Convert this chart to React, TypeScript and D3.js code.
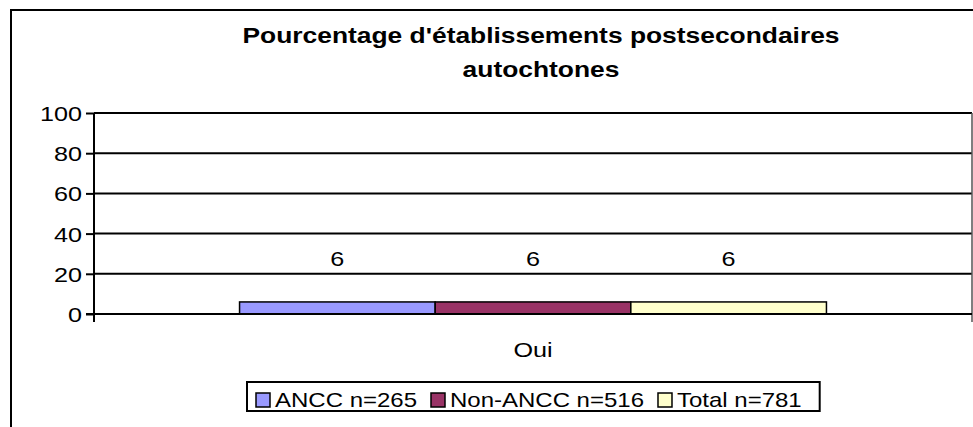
import React from "react";
import * as d3 from "d3";

const categories = ["Oui"];
const seriesNames = ["ANCC n=265", "Non-ANCC n=516", "Total n=781"];
const seriesValues = [[6], [6], [6]];
const seriesColors = ["#9999FF", "#993366", "#FFFFCC"];
const yTicks = [0, 20, 40, 60, 80, 100];
const titleLines = ["Pourcentage d'établissements postsecondaires", "autochtones"];

const width = 973;
const height = 427;
const margin = { top: 113, right: 1, bottom: 113, left: 94 };
const font = "'Liberation Sans', Arial, sans-serif";
const sx = 1.2; // text looks stretched horizontally in the source

export default function App() {
  const ref = React.useRef<SVGSVGElement>(null);

  React.useEffect(() => {
    const svg = d3.select(ref.current);
    svg.selectAll("*").remove();

    const x0 = d3.scaleBand().domain(categories).range([margin.left, width - margin.right]).paddingInner(0).paddingOuter(0.248);
    const x1 = d3.scaleBand().domain(seriesNames).range([0, x0.bandwidth()]);
    const y = d3.scaleLinear().domain([0, 100]).range([height - margin.bottom, margin.top]);
    const y0 = y(0);

    // outer frame
    svg.append("rect").attr("x", 11).attr("y", 10).attr("width", 1000).attr("height", 500)
      .attr("fill", "white").attr("stroke", "black").attr("stroke-width", 2);

    // title
    titleLines.forEach((t, i) => {
      svg.append("text").text(t)
        .attr("transform", `translate(541,${43 + i * 34}) scale(${sx},1)`)
        .attr("text-anchor", "middle").attr("font-family", font)
        .attr("font-weight", "bold").attr("font-size", 22);
    });

    // gridlines
    svg.append("g").selectAll("line").data(yTicks.filter(d => d > 0)).join("line")
      .attr("x1", margin.left).attr("x2", width - margin.right)
      .attr("y1", d => y(d)).attr("y2", d => y(d))
      .attr("stroke", "black").attr("stroke-width", 2);

    // right plot edge
    svg.append("line").attr("x1", width - margin.right).attr("x2", width - margin.right)
      .attr("y1", y(100)).attr("y2", y0 + 8).attr("stroke", "#555").attr("stroke-width", 1.5);

    // bars
    seriesNames.forEach((s, si) => {
      svg.append("g").selectAll("rect").data(categories).join("rect")
        .attr("x", c => x0(c)! + x1(s)!)
        .attr("y", (c, ci) => y(seriesValues[si][ci]))
        .attr("width", x1.bandwidth())
        .attr("height", (c, ci) => y0 - y(seriesValues[si][ci]))
        .attr("fill", seriesColors[si]).attr("stroke", "black").attr("stroke-width", 1.5);
      svg.append("g").selectAll("text").data(categories).join("text")
        .text((c, ci) => seriesValues[si][ci])
        .attr("transform", (c, ci) => `translate(${x0(c)! + x1(s)! + x1.bandwidth() / 2},${y(seriesValues[si][ci]) - 36}) scale(${sx},1)`)
        .attr("text-anchor", "middle").attr("font-family", font).attr("font-size", 21);
    });

    // y axis
    const yAxis = d3.axisLeft(y).tickValues(yTicks).tickSize(8).tickPadding(4);
    const gy = svg.append("g").attr("transform", `translate(${margin.left},0)`).call(yAxis);
    gy.select(".domain").attr("stroke", "black").attr("stroke-width", 2)
      .attr("d", `M0,${y(100)}V${y0 + 8}`);
    gy.selectAll(".tick line").attr("stroke", "black").attr("stroke-width", 2);
    gy.selectAll(".tick text")
      .attr("font-family", font).attr("font-size", 21).attr("fill", "black")
      .attr("transform", `scale(${sx},1)`)
      .attr("x", -12 / sx).attr("dy", "0.36em");

    // x axis
    svg.append("line").attr("x1", margin.left - 8).attr("x2", width - margin.right)
      .attr("y1", y0).attr("y2", y0).attr("stroke", "black").attr("stroke-width", 2);
    categories.forEach(c => {
      svg.append("text").text(c)
        .attr("transform", `translate(${x0(c)! + x0.bandwidth() / 2},${y0 + 43}) scale(${sx},1)`)
        .attr("text-anchor", "middle").attr("font-family", font).attr("font-size", 21);
    });

    // legend
    const lg = svg.append("g");
    const box = lg.append("rect").attr("x", 247).attr("y", 382).attr("width", 575).attr("height", 29)
      .attr("fill", "white").attr("stroke", "black").attr("stroke-width", 2);
    let lx = 256;
    seriesNames.forEach((s, i) => {
      lg.append("rect").attr("x", lx).attr("y", 393).attr("width", 14).attr("height", 14)
        .attr("fill", seriesColors[i]).attr("stroke", "black").attr("stroke-width", 1.5);
      const t = lg.append("text").text(s)
        .attr("transform", `translate(${lx + 19},407) scale(${sx},1)`)
        .attr("font-family", font).attr("font-size", 20);
      const w = (t.node() as SVGTextElement).getComputedTextLength() * sx;
      lx += 19 + w + (i < seriesNames.length - 1 ? 14 : 18);
    });
    box.attr("width", lx - 247);
  }, []);

  return (
    <svg ref={ref} width={width} height={height}
      style={{ position: "absolute", left: 0, top: 0, background: "white" }} />
  );
}
